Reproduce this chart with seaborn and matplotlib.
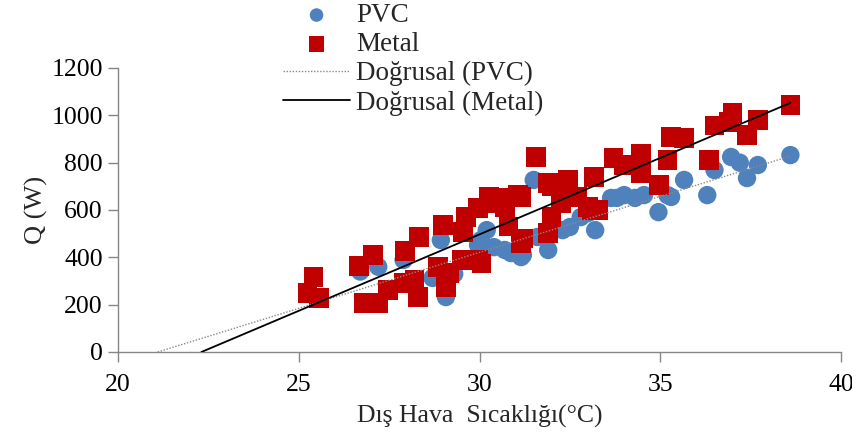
import numpy as np
import pandas as pd
import matplotlib
matplotlib.use("Agg")
import matplotlib.pyplot as plt
import seaborn as sns

# ---- data ----
pvc_x = [26.7, 27.2, 27.9, 28.7, 28.93, 29.07, 29.3, 29.96, 30.04, 30.2, 30.4, 30.7,
         30.87, 31.15, 31.2, 31.5, 31.6, 31.9, 32.3, 32.5, 32.8, 33.0, 33.2, 33.64,
         33.8, 34.0, 34.3, 34.55, 34.95, 35.2, 35.3, 35.66, 36.3, 36.5, 36.96, 37.2,
         37.4, 37.7, 38.6]
pvc_y = [340, 360, 389, 313, 473, 232, 330, 452, 473, 515, 443, 431,
         418, 401, 410, 727, 486, 431, 515, 528, 570, 587, 515, 651,
         651, 663, 651, 663, 591, 663, 655, 727, 663, 769, 824, 800,
         735, 790, 832]

metal_x = [25.25, 25.4, 25.56, 26.67, 27.05, 26.8, 27.2, 27.47, 27.9, 28.3, 28.2,
           27.94, 28.33, 28.85, 29.07, 29.16, 28.99, 29.5, 29.96, 29.54, 29.63,
           29.96, 30.05, 30.26, 30.3, 30.68, 30.7, 30.8, 31.06, 31.15, 31.15, 31.2,
           31.56, 31.9, 31.9, 32.0, 32.0, 32.25, 32.45, 32.5, 32.7, 33.0, 33.1,
           33.17, 33.3, 33.7, 34.0, 34.47, 34.47, 34.97, 35.2, 35.3, 35.66, 36.35,
           36.5, 36.9, 37.0, 37.4, 37.7, 38.6]
metal_y = [250, 317, 228, 363, 410, 207, 207, 262, 291, 232, 304,
           427, 486, 359, 275, 334, 536, 389, 389, 507, 570,
           608, 375, 655, 630, 651, 613, 530, 663, 655, 460, 480,
           824, 714, 503, 700, 570, 630, 727, 655, 655, 613, 600,
           740, 600, 820, 790, 840, 756, 705, 811, 909, 904, 811,
           958, 972, 1010, 917, 980, 1043]

# linear trend lines (Excel "Doğrusal") : slope, intercept
pvc_trend = (47.3, -998.0)
metal_trend = (64.6, -1441.0)
trend_x_end = 38.6

x_ticks = [20, 25, 30, 35, 40]
y_ticks = [0, 200, 400, 600, 800, 1000, 1200]

sns.set_theme(style="white")
plt.rcParams['font.family'] = ['Liberation Serif', 'DejaVu Serif']

fig = plt.figure(figsize=(8.53, 4.43), dpi=100)
ax = fig.add_axes([118/853, 1-352/443, (841-118)/853, (352-68)/443])

pvc_df = pd.DataFrame({"x": pvc_x, "y": pvc_y})
metal_df = pd.DataFrame({"x": metal_x, "y": metal_y})

sns.scatterplot(data=pvc_df, x="x", y="y", ax=ax, marker="o", s=175,
                color="#4F81BD", edgecolor="none", linewidth=0, label="PVC", zorder=2)
sns.scatterplot(data=metal_df, x="x", y="y", ax=ax, marker="s", s=195,
                color="#C00000", edgecolor="none", linewidth=0, label="Metal", zorder=3)

def trend_line(coef):
    m, b = coef
    x0 = -b / m
    xs = np.array([x0, trend_x_end])
    return xs, m * xs + b

xs, ys = trend_line(pvc_trend)
ax.plot(xs, ys, linestyle=(0, (1, 1.2)), color="#8a8a8a", linewidth=1.0,
        label="Doğrusal (PVC)", zorder=4)
xs, ys = trend_line(metal_trend)
ax.plot(xs, ys, linestyle="-", color="black", linewidth=1.3,
        label="Doğrusal (Metal)", zorder=4)

ax.set_xlim(20, 40)
ax.set_ylim(0, 1200)
ax.set_xticks(x_ticks)
ax.set_yticks(y_ticks)
ax.set_xticklabels([str(t) for t in x_ticks], fontsize=18.5)
ax.set_yticklabels([str(t) for t in y_ticks], fontsize=18.5)
ax.set_xlabel("Dış Hava  Sıcaklığı(°C)", fontsize=18.5, labelpad=6)
ax.set_ylabel("Q (W)", fontsize=19, labelpad=2)

for side in ["top", "right"]:
    ax.spines[side].set_visible(False)
for side in ["left", "bottom"]:
    ax.spines[side].set_color("#868686")
    ax.spines[side].set_linewidth(1.0)
ax.tick_params(axis="both", which="major", direction="out", length=7,
               width=1.0, color="#868686", labelcolor="black", pad=4)
ax.tick_params(axis="x", bottom=True, pad=9)
ax.tick_params(axis="y", left=True)
ax.grid(False)

handles, labels = ax.get_legend_handles_labels()
if ax.legend_:
    ax.legend_.remove()
leg = fig.legend(handles, labels, loc="upper left",
                 bbox_to_anchor=(280/853, 0.999), frameon=False,
                 fontsize=19.5, handlelength=2.5, handletextpad=0.2,
                 labelspacing=0.15, borderpad=0.1, borderaxespad=0.0)
for h, sz in zip(leg.legend_handles[:2], [95, 120]):
    try:
        h.set_sizes([sz])
    except Exception:
        pass

fig.savefig("out.png", dpi=100)
